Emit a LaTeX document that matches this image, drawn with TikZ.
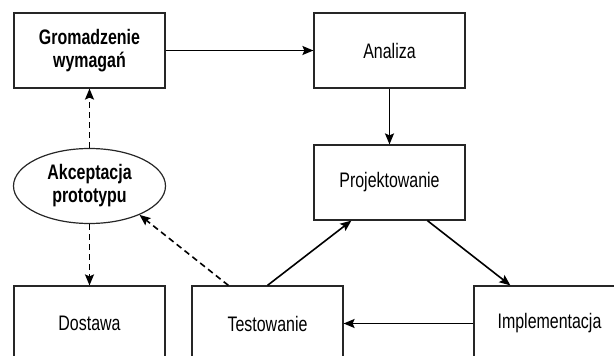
\documentclass[tikz,border=0pt]{standalone}
\usepackage{fontspec}
\setmainfont{Liberation Sans}[FakeStretch=0.76]
\usetikzlibrary{arrows.meta,shapes.geometric,calc}
\begin{document}
\begin{tikzpicture}[x=1pt,y=-1pt,
  box/.style={draw=black!85,line width=1.2pt,minimum width=151pt,minimum height=75pt,inner sep=0pt,align=center,font=\fontsize{21}{23}\selectfont},
  oval/.style={box,ellipse,minimum width=152pt,minimum height=75pt},
  conn/.style={line width=1.6pt,-{Stealth[length=11pt,width=9pt,inset=2pt]}},
  dconn/.style={conn,dash pattern=on 6pt off 4pt}]
\useasboundingbox (0,0) rectangle (614,356);
\clip (0,0) rectangle (614,356);
\node[box,font=\fontsize{21}{23}\selectfont\bfseries] (grom) at (89.5,50.5) {Gromadzenie\\wymagań};
\node[box] (anal) at (389.5,50.5) {Analiza};
\node[box] (proj) at (389.5,182.5) {Projektowanie};
\node[oval,font=\fontsize{21}{23}\selectfont\bfseries] (akc) at (89.5,186) {Akceptacja\\prototypu};
\node[box] (dost) at (89.5,323.5) {Dostawa};
\node[box] (test) at (267.5,323.5) {Testowanie};
\node[box] (impl) at (549.5,323.5) {Implementacja};
\draw[conn] (grom) -- (anal);
\draw[conn] (anal) -- (proj);
\draw[conn] ([xshift=114pt]proj.south west) -- ([xshift=37pt]impl.north west);
\draw[conn] (test.north) -- ([xshift=38pt]proj.south west);
\draw[conn] (impl.west) -- (test.east);
\draw[dconn] ([xshift=37pt]test.north west) -- (akc.-30);
\draw[dconn] (akc) -- (grom);
\draw[dconn] (akc) -- (dost);
\end{tikzpicture}
\end{document}
